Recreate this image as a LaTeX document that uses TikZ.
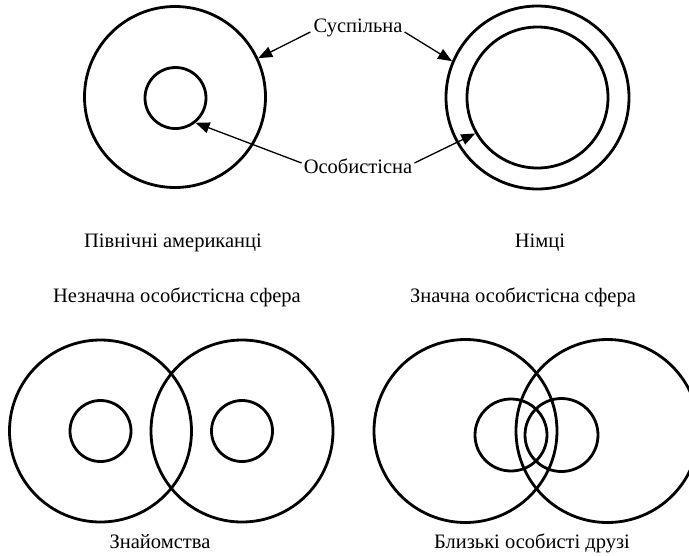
\documentclass[tikz,border=0pt]{standalone}
\usepackage{fontspec}
\setmainfont{Liberation Serif}
\usetikzlibrary{arrows.meta}
\tikzset{
  ring/.style={circle, draw, line width=2.8pt, inner sep=0pt, minimum size=#1},
  lbl/.style={anchor=base, inner sep=0pt, font=\fontsize{20.5}{24}\selectfont},
  pointer/.style={line width=1.3pt, -{Triangle[length=14pt,width=11pt]}}
}
\begin{document}
\begin{tikzpicture}[x=1pt,y=-1pt]
\useasboundingbox (0,0) rectangle (689,555);
% top left
\node[ring=181pt] (c1o) at (175,97) {};
\node[ring=61pt] (c1i) at (175.5,98) {};
% top right
\node[ring=183pt] (c2o) at (537.5,97.5) {};
\node[ring=141pt] (c2i) at (537.5,97.5) {};
% labels with pointers
\node[lbl] (susp) at (358,32) {Суспільна};
\node[lbl] (osob) at (358,173) {Особистісна};
\draw[pointer] ([xshift=-3pt]susp.base west) -- (c1o.25);
\draw[pointer] ([xshift=2pt]susp.base east) -- (c2o.157);
\draw[pointer] ([xshift=-2pt,yshift=10pt]osob.base west) -- (c1i.-51);
\draw[pointer] ([xshift=2pt,yshift=10pt]osob.base east) -- (c2i.210);
% captions
\node[lbl] (na) at (173,247) {Північні американці};
\node[lbl] (nim) at (540,247) {Німці};
\node[lbl] (nez) at (177,302) {Незначна особистісна сфера};
\node[lbl] (zn) at (523,302) {Значна особистісна сфера};
% bottom left
\node[ring=182pt] (b1o) at (100.5,431) {};
\node[ring=61pt] (b1i) at (100.5,431) {};
\node[ring=182pt] (b2o) at (242,431) {};
\node[ring=61pt] (b2i) at (242,431) {};
% bottom right
\node[ring=183pt] (d1o) at (465.5,431) {};
\node[ring=183pt] (d2o) at (607.5,431) {};
\node[ring=72pt] (d1i) at (511,435) {};
\node[ring=73pt] (d2i) at (561.5,435) {};
\node[lbl] (zna) at (160,548) {Знайомства};
\node[lbl] (bl) at (532,548) {Близькі особисті друзі};
\end{tikzpicture}
\end{document}
